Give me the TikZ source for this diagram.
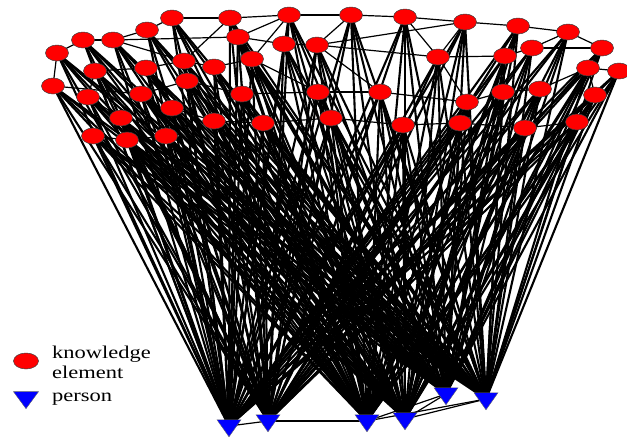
\documentclass[tikz,border=0pt]{standalone}
\usepackage{fontspec}
\setmainfont{Liberation Serif}[FakeStretch=1.25]
\usetikzlibrary{shapes.geometric}
\pgfdeclarelayer{edges}
\pgfsetlayers{edges,main}
\tikzset{
  elem/.style={ellipse, draw=black!75, line width=0.5pt, fill=red,
    minimum width=23pt, minimum height=16pt, inner sep=0pt},
  pers/.style={isosceles triangle, isosceles triangle stretches,
    shape border rotate=270, draw=black!60, line width=0.4pt, fill=blue,
    minimum width=24pt, minimum height=17pt, inner sep=0pt},
  link/.style={line width=1.2pt, black},
  fanlink/.style={line width=2.1pt, black},
  legtext/.style={font=\rmfamily\fontsize{18}{20}\selectfont,
    anchor=base west, inner sep=0pt}
}
\begin{document}
\begin{tikzpicture}[x=1pt,y=-1pt]
\useasboundingbox (0,0) rectangle (627,437);

% knowledge elements
\foreach \n/\x/\y in {
  1/172/18, 2/230/18, 3/289/15, 4/351/15, 5/405/17, 6/465/22, 7/518/26,
  8/568/32, 9/602/48, 10/147/30, 11/83/40, 12/113/40, 13/57/53, 14/238/37,
  15/284/44, 16/317/45, 17/184/61, 18/214/67, 19/252/59, 20/95/71,
  21/146/68, 22/53/86, 23/187/81, 24/88/97, 25/141/94, 26/242/94,
  27/318/92, 28/172/108, 29/121/118, 30/214/121, 31/263/123, 32/93/136,
  33/127/140, 34/166/136, 35/438/57, 36/505/56, 37/532/48, 38/588/68,
  39/619/71, 40/380/92, 41/467/102, 42/503/92, 43/540/89, 44/595/95,
  45/331/118, 46/403/125, 47/460/123, 48/525/128, 49/577/122}
  \node[elem] (k\n) at (\x,\y) {};

% persons
\foreach \n/\x/\y in {1/229/426, 2/268/421, 3/367/421, 4/405/419,
  5/446/394, 6/486/399}
  \node[pers] (p\n) at (\x,\y) {};

\begin{pgfonlayer}{edges}
  % every person is linked to every knowledge element
  \foreach \p in {1,...,6}
    \foreach \k in {1,...,49}
      \draw[fanlink] (p\p.center) -- (k\k.center);
  % links between knowledge elements
  \foreach \a/\b in {1/2, 2/3, 3/4, 4/5, 5/6, 6/7, 7/8, 8/9, 8/37, 37/9,
    37/36, 36/35, 35/16, 16/6, 16/4, 15/16, 14/15, 12/14, 11/12, 13/11,
    12/10, 10/1, 12/17, 17/18, 18/19, 21/17, 20/21, 2/17, 3/19, 25/23,
    23/26, 28/30, 30/31, 26/27, 27/40, 40/41, 41/42, 42/43, 43/38, 38/39,
    38/44, 45/46, 46/47, 47/48, 48/49, 49/44, 6/35, 5/35, 7/36, 16/40,
    13/22, 20/24, 24/29, 29/33, 32/33, 33/34, 34/28, 19/27, 31/45, 14/26,
    9/38, 36/42, 35/41, 3/14, 22/25}
    \draw[link] (k\a.center) -- (k\b.center);
  % links between persons
  \foreach \a/\b in {1/2, 2/3, 3/5, 3/6, 4/5, 4/6}
    \draw[link] (p\a.center) -- (p\b.center);
\end{pgfonlayer}

% legend
\node[elem, minimum width=25pt, minimum height=16pt] (legk) at (26,361) {};
\node[pers, minimum width=25pt, minimum height=17pt] (legp) at (26,398) {};
\node[legtext] (legk1) at (52,358) {knowledge};
\node[legtext] (legk2) at (52,378) {element};
\node[legtext] (legp1) at (52,401) {person};
\end{tikzpicture}
\end{document}
